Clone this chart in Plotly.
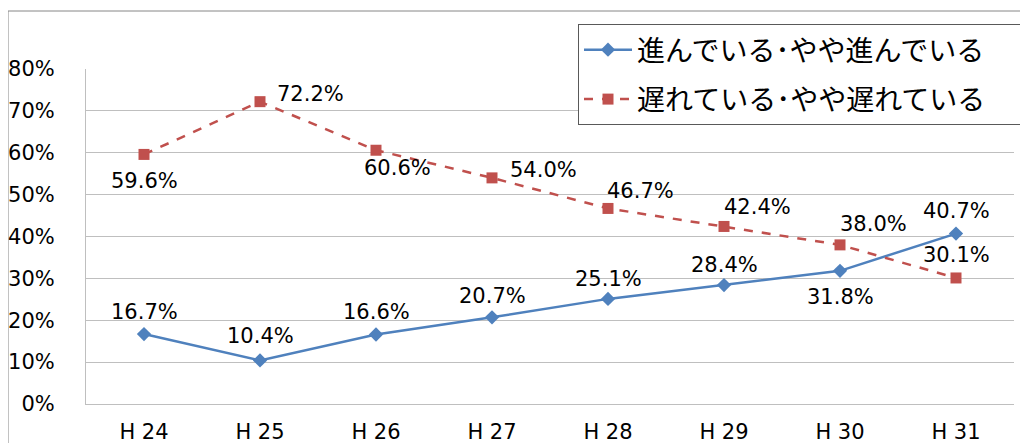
import plotly.graph_objects as go

categories = ["H 24", "H 25", "H 26", "H 27", "H 28", "H 29", "H 30", "H 31"]
advanced = [16.7, 10.4, 16.6, 20.7, 25.1, 28.4, 31.8, 40.7]
delayed = [59.6, 72.2, 60.6, 54.0, 46.7, 42.4, 38.0, 30.1]
name_adv = "進んでいる･やや進んでいる"
name_del = "遅れている･やや遅れている"
y_ticks = [0, 10, 20, 30, 40, 50, 60, 70, 80]

# label offsets (pixels)
adv_shift = [(0, 22), (0, 24), (0, 22), (0, 21), (0, 20), (0, 20), (0, -26), (0, 23)]
del_shift = [(0, -27), (50, 8), (21, -18), (51, 8), (32, 17), (33, 19), (33, 21), (0, 23)]

BLUE = "#4F81BD"
RED = "#C0504D"
FONT = "DejaVu Sans"
PAD = "\u00a0" * 6

fig = go.Figure()
fig.add_trace(go.Scatter(
    x=categories, y=advanced, name=name_adv + PAD, mode="lines+markers",
    line=dict(color=BLUE, width=2.5),
    marker=dict(symbol="diamond", size=11, color=BLUE),
    legendgroup="a",
))
fig.add_trace(go.Scatter(
    x=categories, y=delayed, name=name_del + PAD, mode="lines+markers",
    line=dict(color=RED, width=2.5, dash="dash"),
    marker=dict(symbol="square", size=11, color=RED),
    legendgroup="b",
))

annotations = []
for vals, shifts in ((advanced, adv_shift), (delayed, del_shift)):
    for c, v, (dx, dy) in zip(categories, vals, shifts):
        annotations.append(dict(
            x=c, y=v, text=f"{v:.1f}%", showarrow=False,
            xshift=dx, yshift=dy,
            font=dict(family=FONT, size=21, color="#000000"),
        ))

# page body has an 8px margin; figure coordinates are page - 8
W, H = 1020, 435
L, T = 78, 61
R = W - 1006
B = H - 396
pw, ph = W - L - R, H - T - B

fig.update_layout(
    width=W, height=H,
    margin=dict(l=L, r=R, t=T, b=B, pad=0, autoexpand=False),
    paper_bgcolor="white", plot_bgcolor="white",
    annotations=annotations,
    showlegend=True,
    legend=dict(
        x=(570 - L) / pw, y=(H - B - 16) / ph, xanchor="left", yanchor="top",
        bordercolor="#595959", borderwidth=1, bgcolor="white",
        font=dict(family="Noto Sans CJK JP", size=28, color="#000000"),
        tracegroupgap=10, itemwidth=48,
    ),
    shapes=[dict(
        type="rect", xref="paper", yref="paper",
        x0=(0 - L) / pw, x1=(W + 20 - L) / pw,
        y0=-0.5, y1=(H - B - 3) / ph,
        line=dict(color="#868686", width=1), fillcolor="rgba(0,0,0,0)",
        layer="below",
    )],
)
fig.update_xaxes(
    type="category", range=[-0.5, 7.5], automargin=False,
    showgrid=False, showline=True, linecolor="#BFBFBF", linewidth=1,
    ticks="", tickfont=dict(family=FONT, size=21, color="#000000"),
    ticklabelstandoff=9,
)
fig.update_yaxes(
    range=[0, 80], tickvals=y_ticks, ticktext=[f"{t}%" for t in y_ticks],
    automargin=False,
    showgrid=True, gridcolor="#BFBFBF", gridwidth=1,
    showline=True, linecolor="#BFBFBF", linewidth=1, zeroline=False,
    ticks="", tickfont=dict(family=FONT, size=21, color="#000000"),
    ticklabelstandoff=26,
)
fig.write_html("out.html")
